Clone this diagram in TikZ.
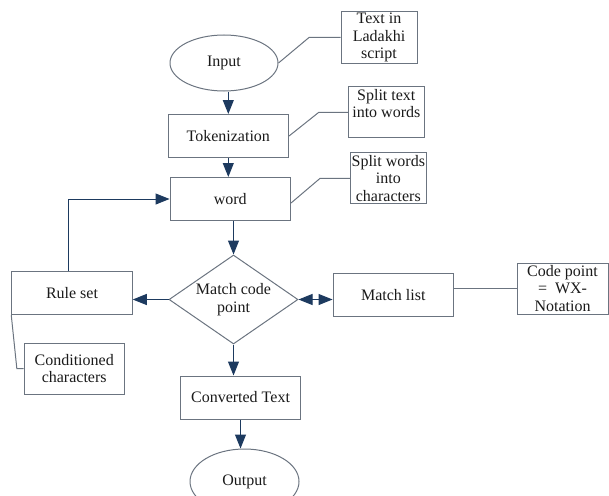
\documentclass[tikz,border=0pt]{standalone}
\usepackage{fontspec}
\setmainfont{Liberation Serif}
\usetikzlibrary{arrows.meta,shapes.geometric}
\definecolor{linegray}{HTML}{6B7480}
\definecolor{arrownavy}{HTML}{1D3A5F}
\definecolor{textdark}{HTML}{1A1A1A}
\begin{document}
\begin{tikzpicture}[x=1pt,y=-1pt,
	every node/.style={draw=linegray,line width=1pt,text=textdark,align=center,
		font=\fontsize{16}{17.5}\selectfont,inner sep=0pt},
	procbox/.style={rectangle,minimum width=120.5pt,minimum height=43pt},
	notebox/.style={rectangle,minimum width=76pt,minimum height=51pt},
	terminal/.style={ellipse,minimum width=108pt,minimum height=56pt},
	decision/.style={diamond,aspect=1.6,minimum width=129pt,minimum height=89pt},
	flow/.style={draw=arrownavy,line width=1pt,-{Triangle[length=14pt,width=11pt]}},
	dualflow/.style={draw=arrownavy,line width=1pt,
		{Triangle[length=14pt,width=11pt]}-{Triangle[length=14pt,width=11pt]}},
	note/.style={draw=linegray,line width=1pt}]
\useasboundingbox (0,0) rectangle (609,495);
% main flow
\node[terminal] (input) at (224,63) {Input};
\node[procbox] (token) at (228.3,136) {Tokenization};
\node[procbox] (word) at (230.3,199) {word};
\node[decision] (match) at (233.5,299.5) {Match code\\point};
\node[procbox] (rules) at (72,293) {Rule set};
\node[procbox] (matchlist) at (393.3,295.3) {Match list};
\node[procbox] (converted) at (240.5,397.5) {Converted Text};
\node[terminal,minimum width=109pt,minimum height=65pt] (output) at (244.5,481.5) {Output};
% side notes
\node[notebox] (ladakhi) at (379,37.5) {Text in\\Ladakhi\\script};
\node[notebox] (splittext) at (386.3,112.3) {Split text\\into words\\~};
\node[notebox] (splitwords) at (388.3,178.3) {Split words\\into\\characters};
\node[notebox,minimum width=100.3pt] (cond) at (74.2,368.7) {Conditioned\\characters};
\node[notebox,minimum width=91pt] (wxnote) at (562.5,288.5) {Code point\\=\ \ WX-\\Notation};

\draw[flow] (token.north |- input.south) -- (token.north);
\draw[flow] (token.south) -- (token.south |- word.north);
\draw[flow] (match.north |- word.south) -- (match.north);
\draw[flow] ([xshift=-3.3pt]rules.north) |- (word.west);
\draw[flow] (match.west) -- (match.west -| rules.east);
\draw[dualflow] (match.east) -- (match.east -| matchlist.west);
\draw[flow] (match.south) -- (match.south |- converted.north);
\draw[flow] (converted.south) -- (converted.south |- output.north);

\draw[note] (input.east) -- ([xshift=-31.5pt]ladakhi.west) -- (ladakhi.west);
\draw[note] (token.east) -- ([xshift=-29pt]splittext.west) -- (splittext.west);
\draw[note] ([yshift=-4pt]word.east) -- ([xshift=-29.7pt]splitwords.west) -- (splitwords.west);
\draw[note] (rules.south west) -- ([xshift=-6.7pt]cond.west) -- (cond.west);
\draw[note] (wxnote.west -| matchlist.east) -- (wxnote.west);
\end{tikzpicture}
\end{document}
